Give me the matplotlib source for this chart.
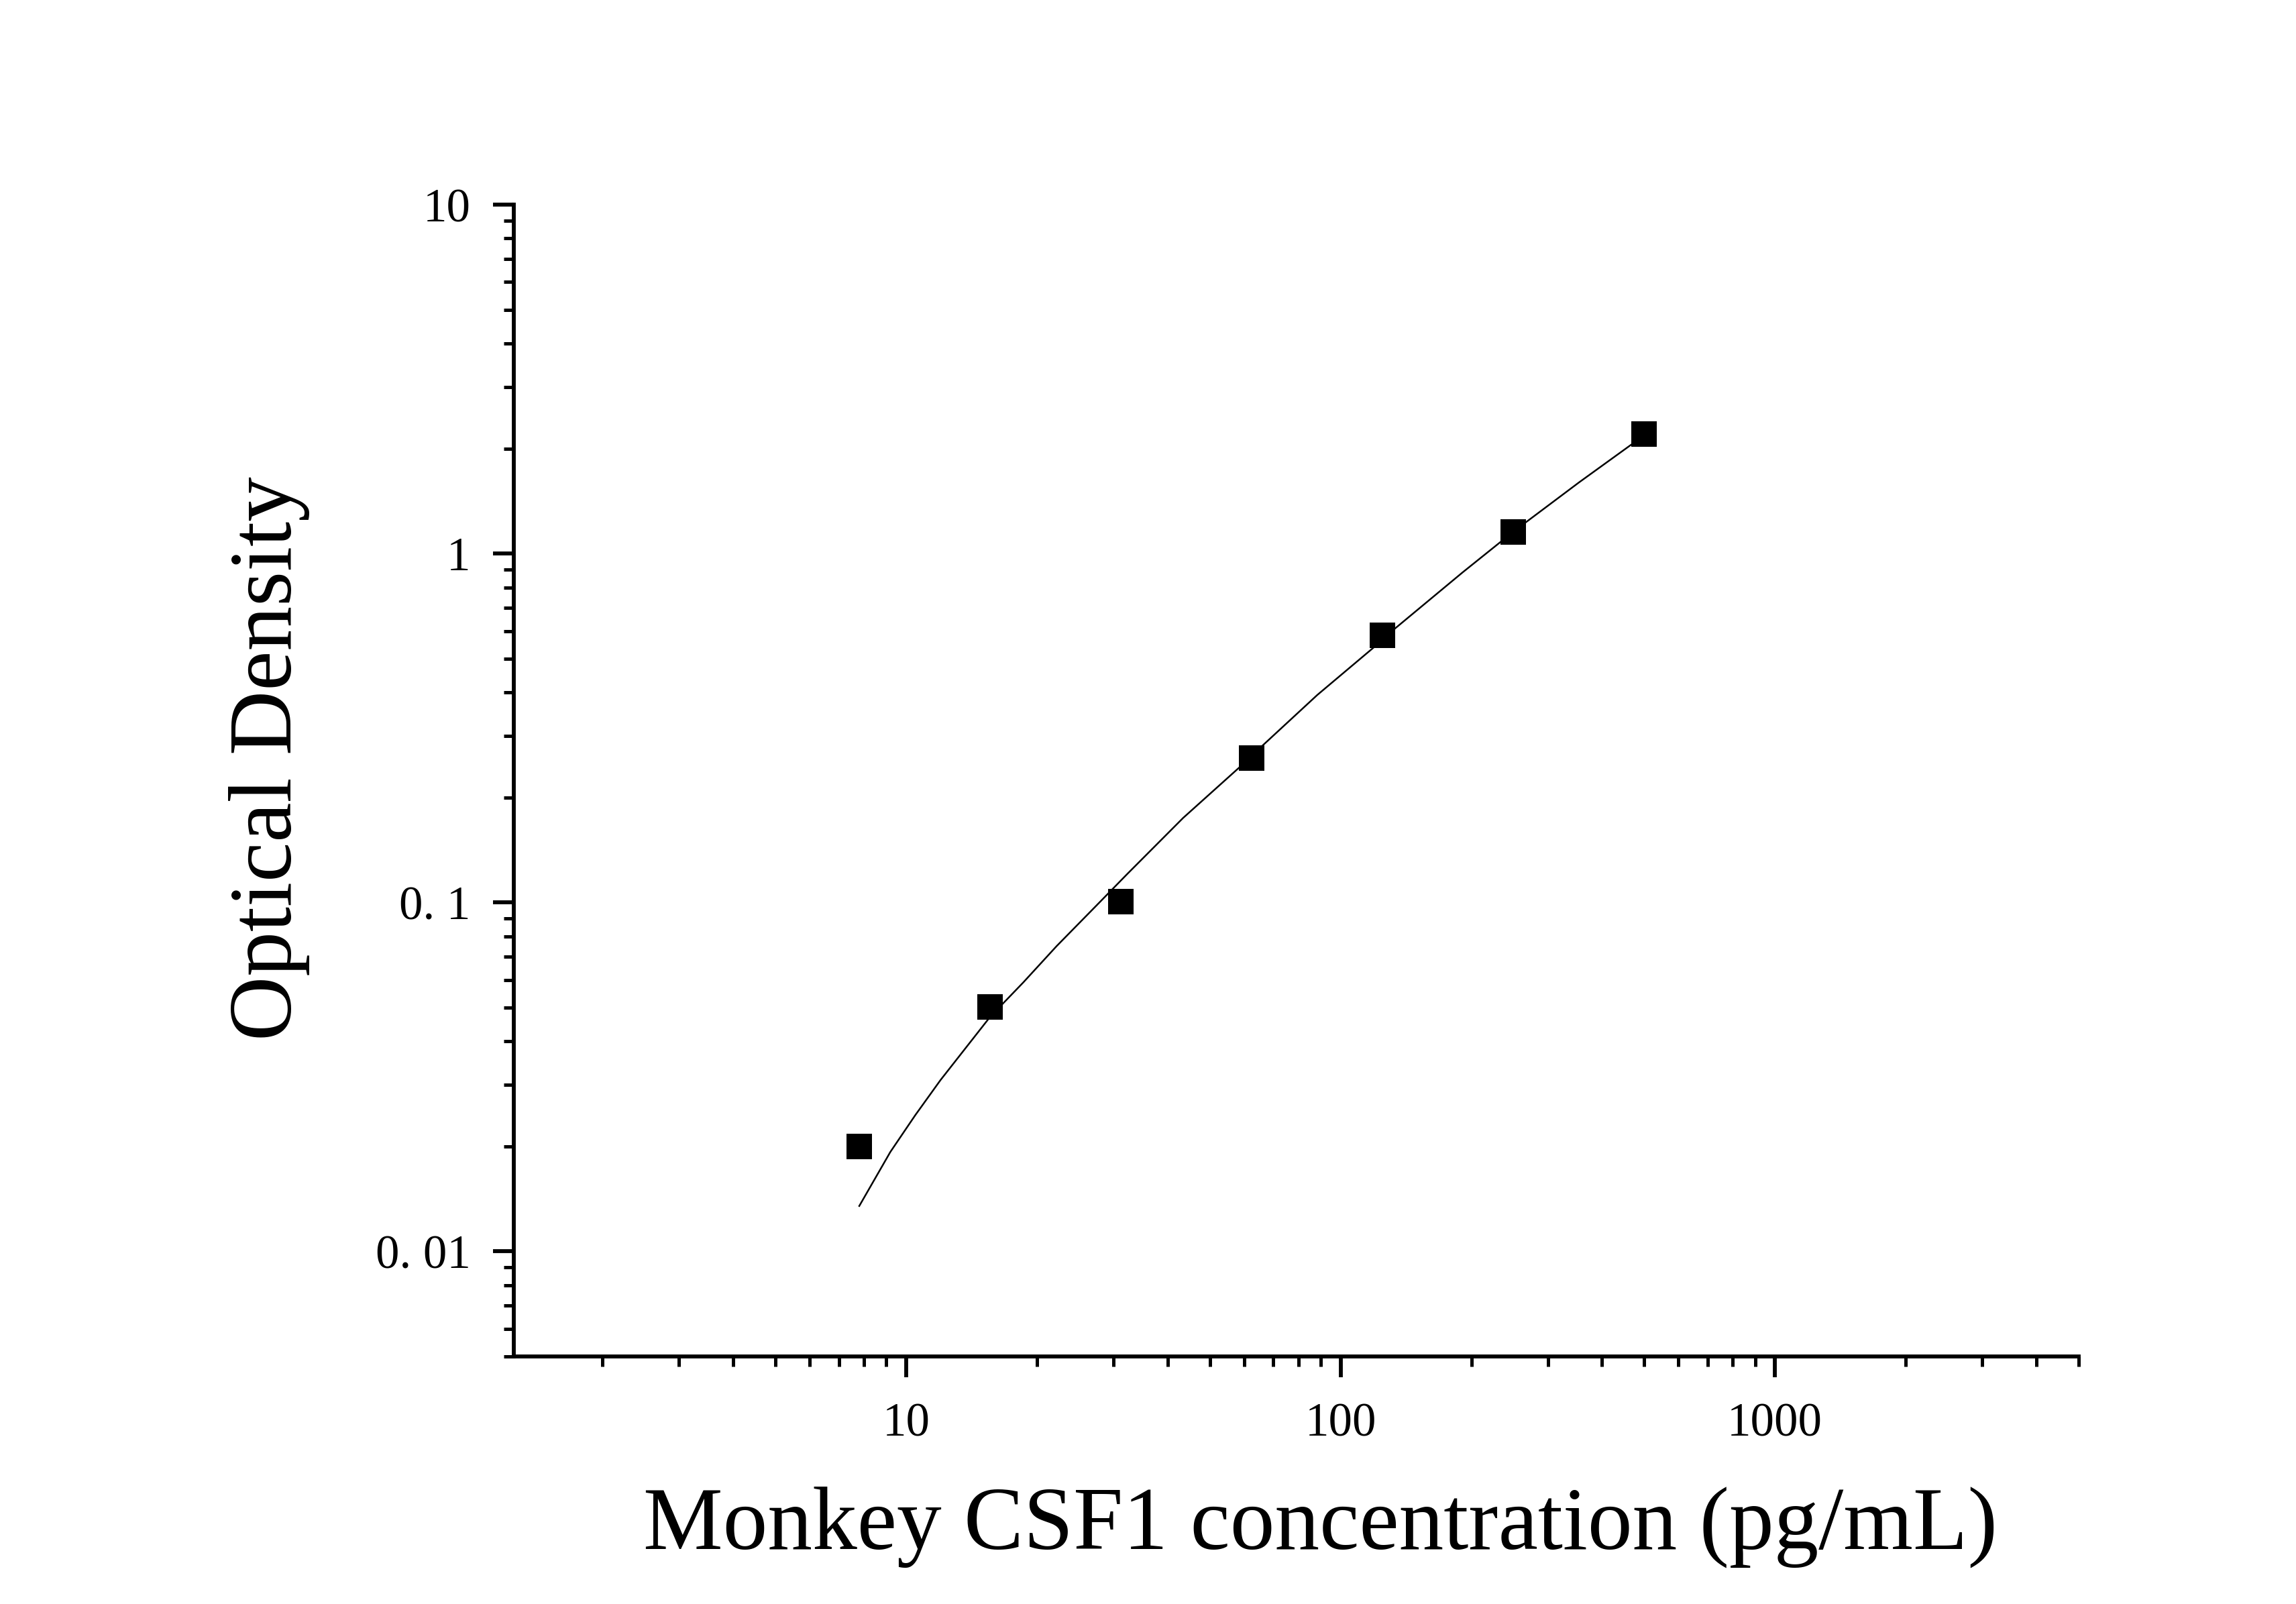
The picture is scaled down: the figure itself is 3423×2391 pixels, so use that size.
import matplotlib
matplotlib.use('Agg')
from matplotlib import pyplot as plt
from matplotlib.ticker import LogLocator, FixedLocator, NullFormatter

# standard points (pg/mL) and measured OD
conc = [7.8125, 15.625, 31.25, 62.5, 125, 250, 500]
od = [0.0200, 0.0502, 0.1006, 0.260, 0.582, 1.151, 2.20]

# fitted curve
curve_x = [7.8, 9.2, 10.5, 12.0, 15.6, 18.6, 22.2, 27.3, 32.3, 43.4, 58.4,
           62.5, 88.4, 125.7, 133.9, 191, 250, 353.8, 467.6, 500]
curve_y = [0.0135, 0.0193, 0.0246, 0.031, 0.047, 0.059, 0.075, 0.0975, 0.1208,
           0.1747, 0.2435, 0.264, 0.3934, 0.569, 0.612, 0.8835, 1.156, 1.599,
           2.055, 2.17]

y_ticks = [0.01, 0.1, 1, 10]
y_tick_labels = ['0. 01', '0. 1', '1', '10']
x_ticks = [10, 100, 1000]
x_tick_labels = ['10', '100', '1000']

plt.rcParams['font.family'] = ['Liberation Serif', 'DejaVu Serif']

fig = plt.figure(figsize=(3423 / 300, 2391 / 300), dpi=300)
ax = fig.add_axes([0.2238, 0.1543, 0.9053 - 0.2238, 0.8724 - 0.1543])

ax.plot(curve_x, curve_y, color='black', lw=0.6, zorder=2)
ax.plot(conc, od, 's', color='black', ms=9, mew=0, zorder=3)

ax.set_xscale('log')
ax.set_yscale('log')
ax.set_xlim(1.25, 5000)
ax.set_ylim(0.005, 10)

ax.xaxis.set_major_locator(FixedLocator(x_ticks))
ax.set_xticklabels(x_tick_labels)
ax.yaxis.set_major_locator(FixedLocator(y_ticks))
ax.set_yticklabels(y_tick_labels)
ax.xaxis.set_minor_locator(LogLocator(base=10, subs=range(2, 10), numticks=20))
ax.yaxis.set_minor_locator(LogLocator(base=10, subs=range(2, 10), numticks=20))
ax.xaxis.set_minor_formatter(NullFormatter())
ax.yaxis.set_minor_formatter(NullFormatter())

for side in ['top', 'right']:
    ax.spines[side].set_visible(False)
for side in ['left', 'bottom']:
    ax.spines[side].set_linewidth(1.4)

ax.tick_params(which='major', length=7.5, width=1.4, labelsize=17, pad=8)
ax.tick_params(which='minor', length=3.6, width=1.2)
ax.tick_params(axis='x', which='major', pad=9)

fig.text(0.575, 0.0347, 'Monkey CSF1 concentration (pg/mL)', fontsize=32,
         ha='center', va='baseline')
fig.text(0.1172, 0.527, 'Optical Density', fontsize=32, rotation=90,
         ha='center', va='center')

plt.savefig('out.png', dpi=300)
